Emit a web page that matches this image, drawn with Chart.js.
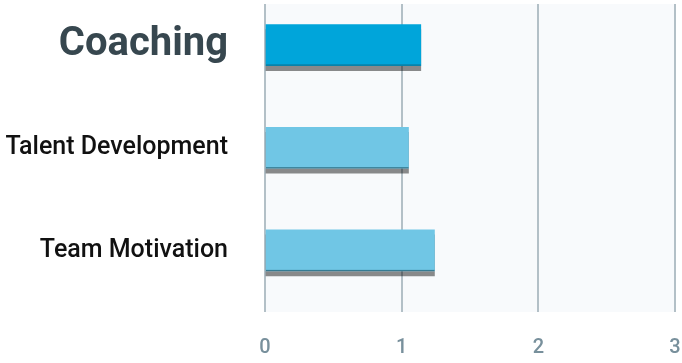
<!DOCTYPE html>
<html>
<head>
<meta charset="utf-8">
<script src="https://cdn.jsdelivr.net/npm/chart.js@4/dist/chart.umd.min.js"></script>
<style>
	html, body { margin: 0; padding: 0; background: #ffffff; }
	#wrap { width: 682px; height: 363px; position: relative; }
</style>
</head>
<body>
<div id="wrap"><canvas id="skills-chart"></canvas></div>
<script>
	// Skill scores, top row is the highlighted one.
	var CATEGORIES = ['Coaching', 'Talent Development', 'Team Motivation'];
	var SCORES     = [1.14, 1.05, 1.24];
	var X_TICKS    = [0, 1, 2, 3];
	var HIGHLIGHT  = 0;

	var FONT_FAMILY = "Roboto, 'Noto Sans', sans-serif";

	var COLORS = {
		highlight:  '#00a5da',
		bar:        '#70c6e5',
		barEdge:    'rgba(20, 80, 100, 0.7)',
		shadow:     'rgba(0, 0, 0, 0.45)',
		grid:       '#b3c0c7',
		plotBg:     '#f8fafc',
		tick:       '#78909c',
		labelMain:  '#37474f',
		label:      '#111111',
	};

	// Plot background behind the bars.
	var plotBackground = {
		id: 'plotBackground',
		beforeDraw: function (chart) {
			var a   = chart.chartArea;
			var ctx = chart.ctx;
			ctx.save();
			ctx.fillStyle = COLORS.plotBg;
			ctx.fillRect(a.left, a.top, a.right - a.left, a.bottom - a.top);
			ctx.restore();
		},
	};

	// Hard drop shadow under each bar, plus a thin dark bottom edge.
	var barShadow = {
		id: 'barShadow',
		beforeDatasetsDraw: function (chart) {
			var ctx = chart.ctx;
			ctx.save();
			ctx.shadowColor   = COLORS.shadow;
			ctx.shadowBlur    = 0;
			ctx.shadowOffsetX = 0;
			ctx.shadowOffsetY = 5;
		},
		afterDatasetsDraw: function (chart) {
			var ctx = chart.ctx;
			ctx.restore();
			ctx.save();
			ctx.fillStyle = COLORS.barEdge;
			chart.getDatasetMeta(0).data.forEach(function (bar) {
				var p = bar.getProps(['x', 'y', 'base', 'height'], true);
				ctx.fillRect(p.base, p.y + p.height / 2 - 1, p.x - p.base, 1);
			});
			ctx.restore();
		},
	};

	// Drop the label overhang padding so the plot fills the canvas.
	function noPadding(scale) {
		scale.paddingTop    = 0;
		scale.paddingBottom = 0;
		scale.paddingLeft   = 0;
		scale.paddingRight  = 0;
	}

	var points = SCORES.map(function (v, i) {
		return { x: v, y: i };
	});

	new Chart(document.getElementById('skills-chart'), {
		type: 'bar',
		data: {
			datasets: [{
				data: points,
				backgroundColor: SCORES.map(function (v, i) {
					return i === HIGHLIGHT ? COLORS.highlight : COLORS.bar;
				}),
				borderWidth:  0,
				barThickness: 41,
			}],
		},
		options: {
			indexAxis: 'y',
			responsive: true,
			maintainAspectRatio: false,
			animation: false,
			layout: {
				padding: { top: 4, right: 7, bottom: 0, left: 0 },
			},
			plugins: {
				legend:  { display: false },
				tooltip: { enabled: false },
			},
			scales: {
				x: {
					type: 'linear',
					min: X_TICKS[0],
					max: X_TICKS[X_TICKS.length - 1],
					afterBuildTicks: function (scale) {
						scale.ticks = X_TICKS.map(function (v) { return { value: v }; });
					},
					afterFit: function (scale) {
						scale.height = 51;
						noPadding(scale);
					},
					grid: {
						color:     COLORS.grid,
						lineWidth: 2,
						drawTicks: false,
					},
					border: { display: false },
					ticks: {
						padding: 24,
						color:   COLORS.tick,
						font:    { family: FONT_FAMILY, size: 20, weight: '500' },
					},
				},
				y: {
					type: 'linear',
					reverse: true,
					offset: false,
					min: -0.4,
					max: 2.6,
					afterBuildTicks: function (scale) {
						scale.ticks = CATEGORIES.map(function (c, i) { return { value: i }; });
					},
					afterFit: function (scale) {
						scale.width = 265;
						noPadding(scale);
					},
					grid:   { display: false, drawTicks: false, offset: false },
					border: { display: false },
					ticks: {
						padding: 37,
						callback: function (value) {
							return CATEGORIES[value];
						},
						color: function (ctx) {
							return ctx.index === HIGHLIGHT ? COLORS.labelMain : COLORS.label;
						},
						font: function (ctx) {
							return ctx.index === HIGHLIGHT
								? { family: FONT_FAMILY, size: 40, weight: 'bold' }
								: { family: FONT_FAMILY, size: 25, weight: '500' };
						},
					},
				},
			},
		},
		plugins: [plotBackground, barShadow],
	});
</script>
</body>
</html>
